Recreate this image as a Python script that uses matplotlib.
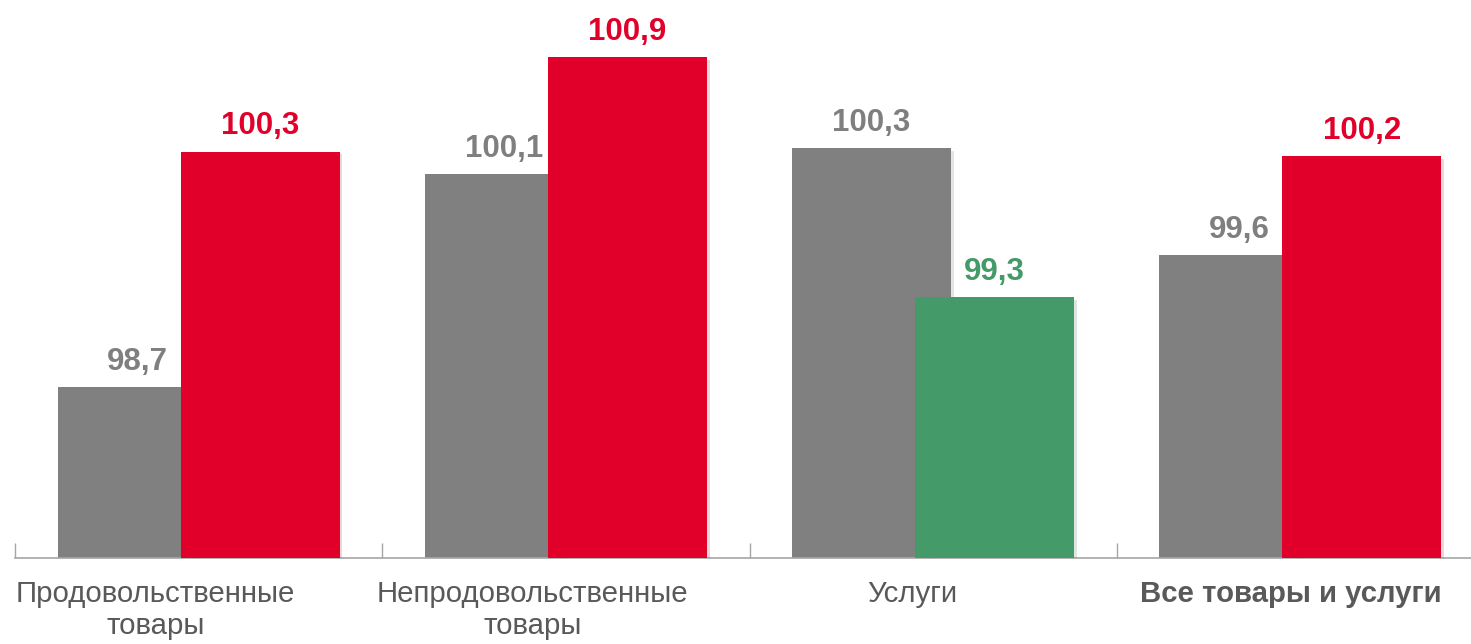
import matplotlib.pyplot as plt
import matplotlib.patheffects as pe

categories = ["Продовольственные\nтовары", "Непродовольственные\nтовары",
              "Услуги", "Все товары и услуги"]
prev_values = [98.70, 100.12, 100.29, 99.58]
curr_values = [100.27, 100.90, 99.30, 100.24]
curr_colors = ["#E1002A", "#E1002A", "#459A69", "#E1002A"]
prev_color = "#808080"
bold_category = [False, False, False, True]

plt.rcParams['font.family'] = ['Liberation Sans', 'DejaVu Sans']

fig = plt.figure(figsize=(14.71, 6.44), dpi=100)
ax = fig.add_axes([15 / 1471, 86 / 644, 1469 / 1471, 558 / 644])

width = 0.433
offset = 0.1675
shadow = [pe.SimplePatchShadow(offset=(2, -2), alpha=0.15, rho=0.6), pe.Normal()]

x = list(range(len(categories)))
gray = ax.bar([i - offset for i in x], prev_values, width=width,
              color=prev_color, zorder=2)
curr = ax.bar([i + offset for i in x], curr_values, width=width,
              color=curr_colors, zorder=3)
for b in list(gray) + list(curr):
    b.set_path_effects(shadow)

ax.set_xlim(-0.5, 3.5)
ax.set_ylim(97.56, 101.28)

# value labels
for i in x:
    ax.annotate(f"{prev_values[i]:.1f}".replace(".", ","),
                (i - offset, prev_values[i]), xytext=(0, 12.5), textcoords="offset points",
                ha="center", va="baseline", fontsize=22.5, fontweight="bold",
                color="#7F7F7F")
    ax.annotate(f"{curr_values[i]:.1f}".replace(".", ","),
                (i + offset, curr_values[i]), xytext=(0, 12.5), textcoords="offset points",
                ha="center", va="baseline", fontsize=22.5, fontweight="bold",
                color=curr_colors[i])

# category labels (sit a bit left of the group centres in the original)
label_shift = [0.117, 0.09, 0.057, 0.027]
for i in x:
    ax.text(i - label_shift[i], -0.04, categories[i], transform=ax.get_xaxis_transform(),
            ha="center", va="top", fontsize=21.2, linespacing=1.18,
            fontweight="bold" if bold_category[i] else "normal", color="#595959")

for s in ["top", "right", "left"]:
    ax.spines[s].set_visible(False)
ax.spines["bottom"].set_color("#A6A6A6")
ax.spines["bottom"].set_linewidth(1.2)
ax.set_yticks([])
ax.set_xticks([-0.5, 0.5, 1.5, 2.5, 3.5])
ax.set_xticks(x, minor=True)
ax.tick_params(axis="x", which="major", direction="in", length=11, color="#A6A6A6",
               width=1, labelbottom=False)
ax.tick_params(axis="x", which="minor", direction="in", length=8, color="#A6A6A6",
               width=1, labelbottom=False)

fig.savefig("out.png", dpi=100)
